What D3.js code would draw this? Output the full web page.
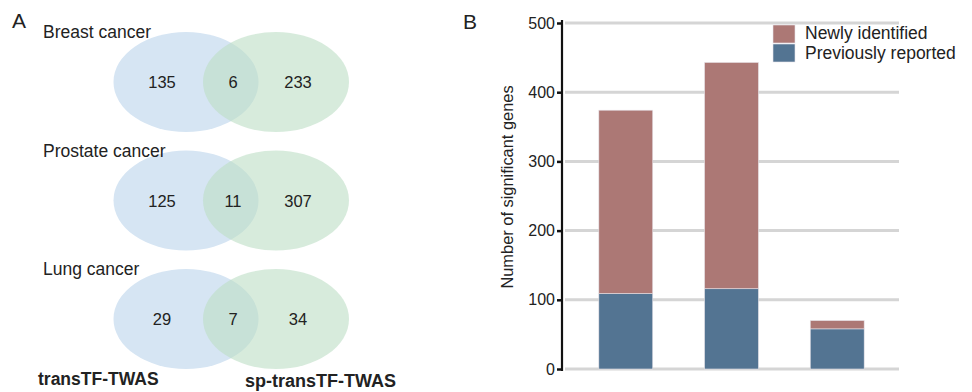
<!DOCTYPE html>
<html>
<head>
<meta charset="utf-8">
<script src="https://cdn.jsdelivr.net/npm/d3@7"></script>
<style>
    body { margin: 0; background: #fff; }
    svg text { font-family: "Liberation Sans", Arial, sans-serif; fill: #222; }
</style>
</head>
<body>
<div id="chart"></div>
<script>
// Venn counts per cancer
const cancers = ["Breast cancer", "Prostate cancer", "Lung cancer"];
const onlyTransTF = [135, 125, 29];
const sharedGenes = [6, 11, 7];
const onlySpTransTF = [233, 307, 34];

// stacked bars
const previouslyReported = [109, 116, 58];
const newlyIdentified = [265, 327, 12];
const seriesNames = ["Newly identified", "Previously reported"];
const yTicks = [0, 100, 200, 300, 400, 500];

const colors = { "Newly identified": "#ac7875", "Previously reported": "#537492" };

const svg = d3.select("#chart").append("svg")
    .attr("width", 972)
    .attr("height", 392);

// ---------- Panel A: Venn diagrams ----------
const rowY = d3.scalePoint().domain(cancers).range([82, 319]);

svg.append("text").attr("x", 12).attr("y", 28)
    .style("font-size", "21px").text("A");

const venn = svg.append("g");
cancers.forEach((c, i) => {
    const cy = rowY(c);
    const g = venn.append("g");
    g.append("ellipse")
        .attr("cx", 186).attr("cy", cy).attr("rx", 72.5).attr("ry", 50)
        .attr("fill", "#d6e5f3");
    g.append("ellipse")
        .attr("cx", 276).attr("cy", cy).attr("rx", 73).attr("ry", 50)
        .attr("fill", "rgb(188,222,196)").attr("fill-opacity", 0.6);
    g.append("text").attr("x", 43).attr("y", cy - 44)
        .style("font-size", "17.5px").text(c);
    const nums = [[onlyTransTF[i], 162], [sharedGenes[i], 233], [onlySpTransTF[i], 298]];
    nums.forEach(([v, x]) => {
        g.append("text").attr("x", x).attr("y", cy + 6)
            .attr("text-anchor", "middle")
            .style("font-size", "16.5px").text(v);
    });
});

svg.append("text").attr("x", 38).attr("y", 385)
    .style("font-size", "17.5px").style("font-weight", "bold").text("transTF-TWAS");
svg.append("text").attr("x", 245).attr("y", 387)
    .style("font-size", "18px").style("font-weight", "bold").text("sp-transTF-TWAS");

// ---------- Panel B: stacked bars ----------
svg.append("text").attr("x", 463).attr("y", 29)
    .style("font-size", "21px").text("B");

const x = d3.scaleBand()
    .domain(cancers)
    .range([565, 898])
    .paddingInner(0.49)
    .paddingOuter(0.32);

const y = d3.scaleLinear()
    .domain([0, 500])
    .range([369, 23]);

// gridlines
svg.append("g").selectAll("line")
    .data(yTicks)
    .join("line")
    .attr("x1", 565).attr("x2", 899)
    .attr("y1", d => y(d)).attr("y2", d => y(d))
    .attr("stroke", "#d5d5d5").attr("stroke-width", 3);

const table = cancers.map((c, i) => ({
    cancer: c,
    "Previously reported": previouslyReported[i],
    "Newly identified": newlyIdentified[i]
}));
const stacked = d3.stack().keys(["Previously reported", "Newly identified"])(table);

svg.append("g").selectAll("g")
    .data(stacked)
    .join("g")
    .attr("fill", d => colors[d.key])
    .selectAll("rect")
    .data(d => d)
    .join("rect")
    .attr("x", d => x(d.data.cancer))
    .attr("width", x.bandwidth())
    .attr("y", d => y(d[1]))
    .attr("height", d => y(d[0]) - y(d[1]))
    .attr("stroke", "#e8e4ea").attr("stroke-width", 0.6);

// y axis
const yAxis = d3.axisLeft(y).tickValues(yTicks).tickSize(5).tickPadding(2);
const ya = svg.append("g")
    .attr("transform", "translate(562,0)")
    .call(yAxis);
ya.select(".domain").attr("stroke", "#111").attr("stroke-width", 2.2).attr("d", "M0,20V371");
ya.selectAll(".tick line").attr("stroke", "#111").attr("stroke-width", 2.5);
ya.selectAll(".tick text")
    .style("font-size", "16px")
    .style("font-family", "'Liberation Sans', Arial, sans-serif")
    .attr("fill", "#222");

svg.append("text")
    .attr("transform", "translate(513,187) rotate(-90)")
    .attr("text-anchor", "middle")
    .style("font-size", "16.4px")
    .text("Number of significant genes");

// legend
const legend = svg.append("g").attr("transform", "translate(773,25)");
seriesNames.forEach((s, i) => {
    legend.append("rect")
        .attr("x", 0).attr("y", i * 19)
        .attr("width", 22).attr("height", 18)
        .attr("fill", colors[s]).attr("stroke", "#e8e4ea").attr("stroke-width", 0.6);
    legend.append("text")
        .attr("x", 32).attr("y", i * 20 + 14)
        .style("font-size", "17.5px")
        .text(s);
});
</script>
</body>
</html>
